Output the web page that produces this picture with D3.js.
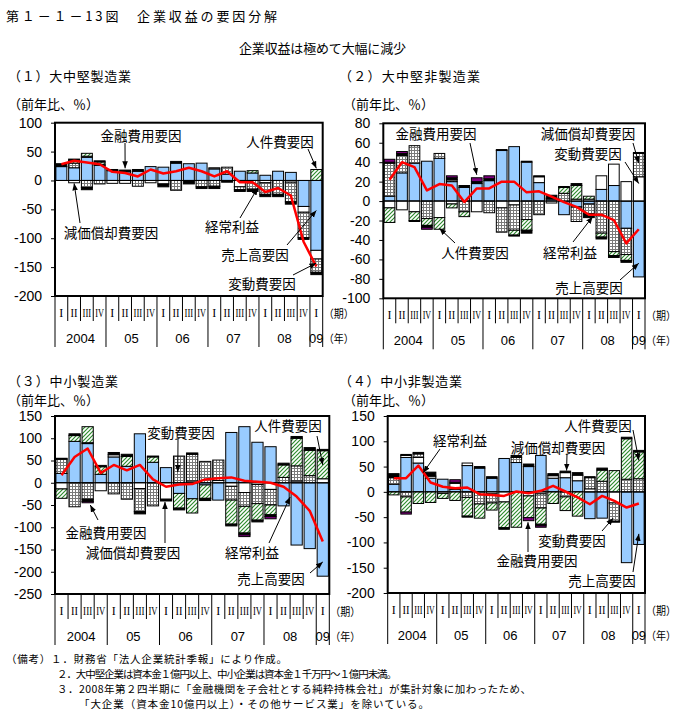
<!DOCTYPE html>
<html><head><meta charset="utf-8">
<script src="https://cdn.jsdelivr.net/npm/d3@7"></script>
<style>
body{margin:0;background:#fff}
svg{display:block}
text{font-family:"Noto Sans CJK JP","Noto Sans",sans-serif;fill:#000}
</style>
</head><body>
<svg id="c" width="681" height="715"></svg>
<script>
// ---------- categories ----------
const quarterLabels = ["I","II","III","IV","I","II","III","IV","I","II","III","IV","I","II","III","IV","I","II","III","IV","I"];
const yearLabels = ["2004","05","06","07","08","09"];
const factorKeys = ["S","D","V","L","F","O"];
const factorNames = {S:"売上高要因",D:"減価償却費要因",V:"変動費要因",L:"人件費要因",F:"金融費用要因",O:"その他"};

// ---------- (1) 大中堅製造業 ----------
const p1Sales  = [24,22,40,26,17,15,16,24,23,30,29,30,20,11,16,13,9,16,14,-45,-121];
const p1Dep    = [0,-4,2,2,-5,-5,0,-4,-6,0,0,0,2,0,-11,0,-4,0,-3,-10,-15];
const p1Var    = [0,8,-12,-6,0,0,-10,0,0,-17,0,-11,-10,12,-5,-15,-20,-24,-34,-44,-23];
const p1Lab    = [0,5,5,4,0,0,0,0,0,0,0,0,0,0,0,4,0,0,0,0,19];
const p1Fin    = [5,2,-4,2,2,3,3,0,-5,3,-6,-3,-4,-3,-3,-4,-4,-4,-4,-3,-4];
const p1Oth    = [0,0,0,0,0,0,0,0,0,0,0,0,0,0,0,0,0,0,0,0,0];
const p1Profit = [28,34,31,28,15,13,7,19,12,16,22,16,7,16,-3,-3,-20,-13,-26,-106,-149];

// ---------- (2) 大中堅非製造業 ----------
const p2Sales  = [5,29,39,41,44,20,14,18,21,52,56,40,19,2,-14,-6,-3,12,16,-28,-78];
const p2Dep    = [-7,-9,-11,0,-17,-3,0,-11,0,-7,-4,1,6,-2,0,2,2,14,22,20,25];
const p2Var    = [34,18,18,-18,5,2,-11,0,-12,-25,-26,-19,-14,1,8,-15,-10,-33,-52,-27,24];
const p2Lab    = [-15,0,-9,-7,-12,-4,-5,0,0,0,-5,-11,0,0,6,14,3,-4,-4,-6,0];
const p2Fin    = [1,2,-1,-2,0,2,2,2,2,1,-1,-3,1,3,1,2,-4,-2,-2,-2,1];
const p2Oth    = [3,2,0,-2,0,2,0,4,3,0,0,0,0,0,0,0,0,0,0,0,0];
const p2Profit = [22,40,35,11,17.5,16,-1,13,13,20,20,9,10,4.5,-1,-6,-14,-14,-19.5,-43.5,-29];

// ---------- (3) 中小製造業 ----------
const p3Sales  = [21,93,88,19,58,37,110,46,34,-24,-36,-5,-39,113,126,91,81,-52,-140,-148,-210];
const p3Dep    = [-14,0,2,-18,5,0,-13,0,-37,0,4,0,5,-8,-22,-4,-15,0,4,0,9];
const p3Var    = [32,-54,-37,0,-25,-37,-52,-52,0,60,60,48,46,-31,-31,-43,-35,12,34,16,0];
const p3Lab    = [-21,13,36,17,0,22,0,12,0,-33,-32,-30,0,-54,-60,-37,-22,28,62,57,63];
const p3Fin    = [2,4,-5,3,5,5,-5,2,-4,-4,3,-5,0,-4,-4,-4,-4,4,4,6,3];
const p3Oth    = [0,0,-3,0,0,0,0,0,0,0,0,0,0,0,-4,0,-5,0,0,0,0];
const p3Profit = [17,58,77,22,40,28,40,7.5,-9,-4,-3,7.5,10,12,4.5,2,0,-9,-31,-63,-132];

// ---------- (4) 中小非製造業 ----------
const p4Sales  = [15,68,57,27,25,5,52,47,27,66,58,50,72,27,28,22,-53,-52,0,-140,-104];
const p4Dep    = [0,4,11,4,-3,12,5,0,-4,-20,0,-8,-4,5,10,11,6,0,-22,0,0];
const p4Var    = [13,-10,7,0,0,0,-11,-24,-18,0,10,0,-28,0,-10,0,22,21,-36,25,26];
const p4Lab    = [-6,-30,-23,-21,-10,-17,-37,-28,-14,-51,-70,-43,-32,-23,-27,-48,0,22,42,80,53];
const p4Fin    = [8,2,3,8,0,2,-2,3,3,-3,4,5,-3,4,3,5,2,4,-2,3,3];
const p4Oth    = [0,-4,0,0,0,5,0,0,0,0,0,-6,-3,0,0,0,0,0,0,0,0];
const p4Profit = [27,27,52,18.5,10,7,8.6,-4.6,-6,-8,0.7,-2.6,2,12,0.7,-11,-24.5,-8,-18,-31,-23];

// ---------- styles ----------
const fills = {S:"#99ccff",D:"#ffffff",V:"url(#grid)",L:"url(#hatch)",F:"#000000",O:"#800080"};

const svg = d3.select("#c");
svg.append("rect").attr("width",681).attr("height",715).attr("fill","#fff");
const defs = svg.append("defs");
const grid = defs.append("pattern").attr("id","grid").attr("patternUnits","userSpaceOnUse").attr("width",3).attr("height",3);
grid.append("rect").attr("width",3).attr("height",3).attr("fill","#fff");
grid.append("path").attr("d","M0,0.5H3M0.5,0V3").attr("stroke","#7a7a7a").attr("stroke-width",1);
const hatch = defs.append("pattern").attr("id","hatch").attr("patternUnits","userSpaceOnUse").attr("width",4).attr("height",4);
hatch.append("rect").attr("width",4).attr("height",4).attr("fill","#fff");
hatch.append("path").attr("d","M-1,1L1,-1M0,4L4,0M3,5L5,3").attr("stroke","#2e8b2e").attr("stroke-width",1.2);
const mk = defs.append("marker").attr("id","arr").attr("viewBox","0 0 10 10").attr("refX",10).attr("refY",5)
  .attr("markerWidth",7).attr("markerHeight",7).attr("markerUnits","userSpaceOnUse").attr("orient","auto");
mk.append("path").attr("d","M0,1L10,5L0,9Z").attr("fill","#000");

// ---------- headers ----------
function txt(t,x,y,opts={}){
  const e = svg.append("text").attr("x",x).attr("y",y).attr("dominant-baseline","central")
    .attr("font-size",opts.size||13).text(t);
  if(opts.len){e.attr("textLength",opts.len).attr("lengthAdjust",opts.adj||"spacing");}
  if(opts.anchor) e.attr("text-anchor",opts.anchor);
  if(opts.family) e.style("font-family",opts.family);
  return e;
}
txt("第１－１－13図　企業収益の要因分解",6,15,{len:271});
txt("企業収益は極めて大幅に減少",239,47,{len:167});

const panels = [
 {title:"（１）大中堅製造業", tx:8, tlen:123, ty:75, uy:103, ux:8,
  x0:55, x1:322.7, y0:122.7, y1:296, dom:[-200,100], step:50,
  cols:[p1Sales,p1Dep,p1Var,p1Lab,p1Fin,p1Oth], profit:p1Profit,
  notes:[
   {t:"金融費用要因", cx:141, cy:135, sx:125, sy:143, i:5, v:21},
   {t:"人件費要因", cx:280, cy:141, sx:308, sy:149, i:20, v:21},
   {t:"減価償却費要因", cx:111, cy:232, sx:80, sy:223, i:1, v:-5},
   {t:"経常利益", cx:232, cy:226, sx:240, sy:218, i:15.4, v:-13},
   {t:"売上高要因", cx:255, cy:254, sx:287, sy:245, i:20, v:-52},
   {t:"変動費要因", cx:262, cy:283, sx:293, sy:275, i:20, v:-143}]},
 {title:"（２）大中堅非製造業", tx:339, tlen:141, ty:75, uy:103, ux:343,
  x0:383.3, x1:645, y0:123.3, y1:298.3, dom:[-100,80], step:20,
  cols:[p2Sales,p2Dep,p2Var,p2Lab,p2Fin,p2Oth], profit:p2Profit,
  notes:[
   {t:"金融費用要因", cx:436, cy:133, sx:470, sy:143, i:7, v:27},
   {t:"減価償却費要因", cx:588, cy:133, sx:633, sy:143, i:20, v:39},
   {t:"変動費要因", cx:588, cy:153, sx:625, sy:162, i:20, v:18},
   {t:"人件費要因", cx:475, cy:252, sx:455, sy:243, i:4, v:-28},
   {t:"経常利益", cx:570, cy:252, sx:573, sy:242, i:16.3, v:-16},
   {t:"売上高要因", cx:589, cy:287, sx:620, sy:280, i:20, v:-64}]},
 {title:"（３）中小製造業", tx:8, tlen:110, ty:380, uy:399, ux:8,
  x0:55, x1:329.3, y0:416, y1:594, dom:[-250,150], step:50,
  cols:[p3Sales,p3Dep,p3Var,p3Lab,p3Fin,p3Oth], profit:p3Profit,
  notes:[
   {t:"変動費要因", cx:181, cy:432, sx:178, sy:439, i:8.9, v:24},
   {t:"人件費要因", cx:288, cy:425, sx:317, sy:436, i:20, v:40},
   {t:"金融費用要因", cx:106, cy:532, sx:98, sy:520, i:2.2, v:-50},
   {t:"減価償却費要因", cx:133, cy:552, sx:165, sy:543, i:7.92, v:-43},
   {t:"経常利益", cx:252, cy:552, sx:269, sy:543, i:17.5, v:-32},
   {t:"売上高要因", cx:271, cy:578, sx:310, sy:573, i:20, v:-178}]},
 {title:"（４）中小非製造業", tx:339, tlen:123, ty:380, uy:399, ux:343,
  x0:387.7, x1:645, y0:416, y1:593, dom:[-200,150], step:50,
  cols:[p4Sales,p4Dep,p4Var,p4Lab,p4Fin,p4Oth], profit:p4Profit,
  notes:[
   {t:"人件費要因", cx:598, cy:425, sx:633, sy:430, i:20, v:62},
   {t:"経常利益", cx:460, cy:440, sx:440, sy:449, i:2.4, v:38},
   {t:"減価償却費要因", cx:558, cy:447, sx:567, sy:454, i:14.1, v:42},
   {t:"変動費要因", cx:572, cy:540, sx:602, sy:531, i:17.9, v:-52},
   {t:"金融費用要因", cx:537, cy:560, sx:528, sy:552, i:10.95, v:-60},
   {t:"売上高要因", cx:602, cy:580, sx:633, sy:572, i:20, v:-83}]}
];

panels.forEach(p => {
  txt(p.title, p.tx, p.ty, {len:p.tlen});
  txt("（前年比、％）", p.ux, p.uy, {size:13});

  const n = quarterLabels.length;
  const x = d3.scaleBand().domain(d3.range(n)).range([p.x0, p.x1]).paddingInner(0.14).paddingOuter(0.07);
  const step = (p.x1 - p.x0) / n;
  const xc = k => x(0) + x.bandwidth()/2 + k * x.step();
  const y = d3.scaleLinear().domain(p.dom).range([p.y1, p.y0]);

  const rows = d3.range(n).map(i => {
    const r = {i};
    factorKeys.forEach((k, j) => r[k] = p.cols[j][i]);
    return r;
  });
  const stacked = d3.stack().keys(factorKeys).offset(d3.stackOffsetDiverging)(rows);

  const g = svg.append("g");
  stacked.forEach(layer => {
    g.append("g").selectAll("rect").data(layer.filter(d => d[1] !== d[0])).join("rect")
      .attr("x", d => x(d.data.i))
      .attr("width", x.bandwidth())
      .attr("y", d => y(Math.max(d[0], d[1])))
      .attr("height", d => Math.abs(y(d[0]) - y(d[1])))
      .attr("fill", fills[layer.key])
      .attr("stroke", "#000").attr("stroke-width", 1);
  });

  // zero line
  g.append("line").attr("x1", p.x0).attr("x2", p.x1).attr("y1", y(0)).attr("y2", y(0))
    .attr("stroke", "#000").attr("stroke-width", 1);

  // profit line
  g.append("path").datum(p.profit)
    .attr("d", d3.line().x((d, i) => xc(i)).y(d => y(d)))
    .attr("fill", "none").attr("stroke", "#ff0000").attr("stroke-width", 2.5)
    .attr("stroke-linejoin", "round");

  // frame
  g.append("rect").attr("x", p.x0).attr("y", p.y0).attr("width", p.x1 - p.x0).attr("height", p.y1 - p.y0)
    .attr("fill", "none").attr("stroke", "#000").attr("stroke-width", 2);

  // y axis
  const ticks = d3.range(p.dom[0], p.dom[1] + 0.001, p.step);
  const ax = g.append("g").attr("transform", `translate(${p.x0},0)`)
    .call(d3.axisLeft(y).tickValues(ticks).tickSize(4).tickSizeOuter(0).tickPadding(9).tickFormat(d => String(d)));
  ax.select(".domain").remove();
  ax.selectAll("text").attr("font-size", 14).style("font-family", "'Liberation Sans',Arial,sans-serif").attr("fill", "#000");

  // category axis separators
  const bottom = p.y1;
  for (let j = 0; j <= n; j++) {
    const xx = p.x0 + j * step;
    const long = (j % 4 === 0) || j === n;
    g.append("line").attr("x1", xx).attr("x2", xx).attr("y1", bottom).attr("y2", bottom + (long ? 51 : 25))
      .attr("stroke", "#000").attr("stroke-width", 1);
  }
  quarterLabels.forEach((q, i) => {
    const t = g.append("text").attr("x", xc(i)).attr("y", bottom + 17).attr("text-anchor", "middle")
      .attr("dominant-baseline", "central").attr("font-size", 12)
      .style("font-family", "'Liberation Serif','Times New Roman',serif").text(q);
    if (q.length >= 2) t.attr("textLength", q.length === 2 && q !== "IV" ? 7 : step - 4).attr("lengthAdjust", "spacingAndGlyphs");
  });
  yearLabels.forEach((yl, k) => {
    const first = k * 4, last = Math.min(k * 4 + 3, n - 1);
    g.append("text").attr("x", (xc(first) + xc(last)) / 2).attr("y", bottom + 42).attr("text-anchor", "middle")
      .attr("dominant-baseline", "central").attr("font-size", 13)
      .style("font-family", "'Liberation Sans',Arial,sans-serif").text(yl);
  });
  txt("（期）", p.x1 + 1, bottom + 17, {size:11, len:30, adj:"spacingAndGlyphs"});
  txt("（年）", p.x1 + 1, bottom + 42, {size:11, len:30, adj:"spacingAndGlyphs"});

  // annotations
  p.notes.forEach(a => {
    g.append("line").attr("x1", a.sx).attr("y1", a.sy).attr("x2", xc(a.i)).attr("y2", y(a.v))
      .attr("stroke", "#000").attr("stroke-width", 1).attr("marker-end", "url(#arr)");
    g.append("text").attr("x", a.cx).attr("y", a.cy).attr("text-anchor", "middle")
      .attr("dominant-baseline", "central").attr("font-size", 13.5).text(a.t);
  });
});

// footnotes
txt("（備考）１．財務省「法人企業統計季報」により作成。", 6, 658, {size:10.5, len:281});
txt("２．大中堅企業は資本金１億円以上、中小企業は資本金１千万円～１億円未満。", 57, 673, {size:10.5, len:340});
txt("３．2008年第２四半期に「金融機関を子会社とする純粋持株会社」が集計対象に加わったため、", 57, 688, {size:10.5, len:474});
txt("「大企業（資本金10億円以上）・その他サービス業」を除いている。", 79, 703, {size:10.5, len:350});
</script>
</body></html>
